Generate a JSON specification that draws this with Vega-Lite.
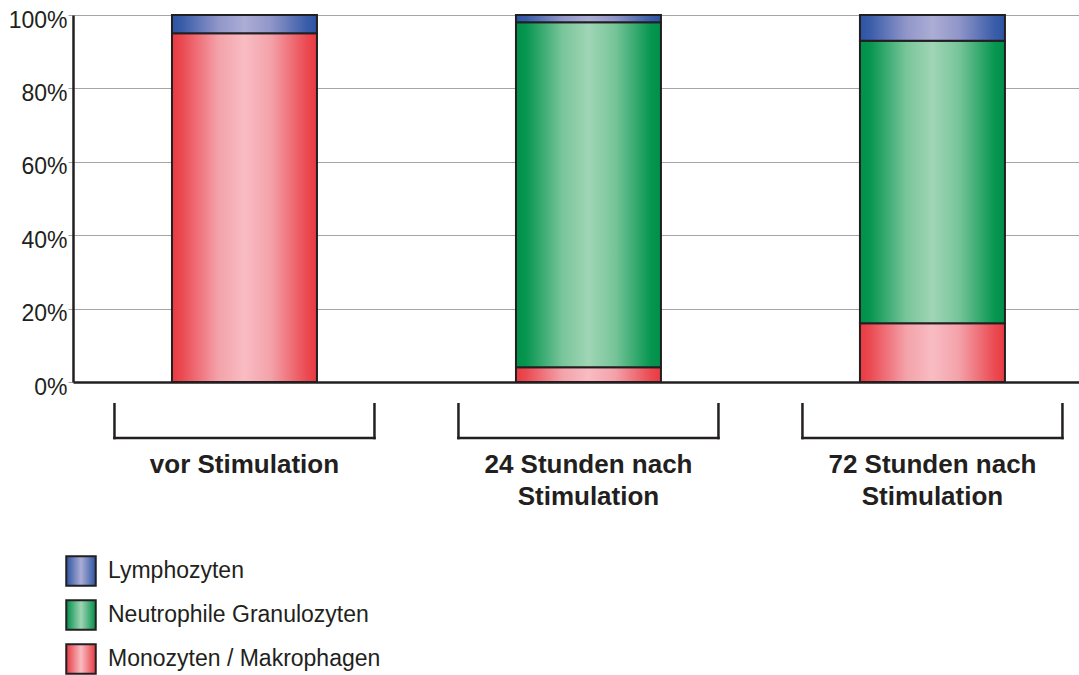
{
  "$schema": "https://vega.github.io/schema/vega-lite/v6.json",
  "autosize": {"type": "none"},
  "width": 1006,
  "height": 367,
  "padding": {"left": 73, "top": 15, "right": 0, "bottom": 293},
  "background": "white",
  "config": {
    "view": {"stroke": null},
    "font": "Liberation Sans",
    "text": {"font": "Liberation Sans", "color": "#231f20"}
  },
  "datasets": {
    "cells": [
      {"group": "vor Stimulation", "type": "Monozyten / Makrophagen", "value": 95},
      {"group": "vor Stimulation", "type": "Neutrophile Granulozyten", "value": 0},
      {"group": "vor Stimulation", "type": "Lymphozyten", "value": 5},
      {"group": "24 Stunden nach\nStimulation", "type": "Monozyten / Makrophagen", "value": 4},
      {"group": "24 Stunden nach\nStimulation", "type": "Neutrophile Granulozyten", "value": 94},
      {"group": "24 Stunden nach\nStimulation", "type": "Lymphozyten", "value": 2},
      {"group": "72 Stunden nach\nStimulation", "type": "Monozyten / Makrophagen", "value": 16},
      {"group": "72 Stunden nach\nStimulation", "type": "Neutrophile Granulozyten", "value": 77},
      {"group": "72 Stunden nach\nStimulation", "type": "Lymphozyten", "value": 7}
    ],
    "groups": [
      {"group": "vor Stimulation"},
      {"group": "24 Stunden nach\nStimulation"},
      {"group": "72 Stunden nach\nStimulation"}
    ]
  },
  "encoding": {
    "x": {
      "field": "group",
      "type": "nominal",
      "sort": null,
      "scale": {
        "domain": ["vor Stimulation", "24 Stunden nach\nStimulation", "72 Stunden nach\nStimulation"],
        "paddingInner": 0.5785,
        "paddingOuter": 0.2515,
        "align": 0.572
      },
      "axis": {
        "labels": false,
        "ticks": false,
        "title": null,
        "grid": false,
        "domainColor": "#231f20",
        "domainWidth": 2.5
      }
    }
  },
  "layer": [
    {
      "data": {"name": "cells"},
      "transform": [
        {"stack": "value", "groupby": ["group"], "as": ["v0", "v1"]},
        {"filter": "datum.type === 'Monozyten / Makrophagen'"}
      ],
      "mark": {
        "type": "bar",
        "stroke": "#231f20",
        "strokeWidth": 2,
        "fill": {
          "gradient": "linear", "x1": 0, "x2": 1, "y1": 0, "y2": 0,
          "stops": [
            {"offset": 0, "color": "#E83A42"},
            {"offset": 0.07, "color": "#EB4A52"},
            {"offset": 0.32, "color": "#F4A2AA"},
            {"offset": 0.5, "color": "#F8BCC2"},
            {"offset": 0.68, "color": "#F4A2AA"},
            {"offset": 0.93, "color": "#EB4A52"},
            {"offset": 1, "color": "#E83A42"}
          ]
        }
      },
      "encoding": {
        "y": {
          "field": "v1",
          "type": "quantitative",
          "scale": {"domain": [0, 100], "nice": false},
          "axis": {
            "values": [0, 20, 40, 60, 80, 100],
            "labelExpr": "datum.value + '%'",
            "title": null,
            "grid": true,
            "gridColor": "#a5a5a5",
            "gridWidth": 1,
            "domainColor": "#231f20",
            "domainWidth": 2.5,
            "tickColor": "#a5a5a5",
            "tickSize": 5,
            "labelFont": "Liberation Sans",
            "labelFontSize": 23,
            "labelColor": "#231f20",
            "labelPadding": 1,
            "labelOffset": 5
          }
        },
        "y2": {"field": "v0"}
      }
    },
    {
      "data": {"name": "cells"},
      "transform": [
        {"stack": "value", "groupby": ["group"], "as": ["v0", "v1"]},
        {"filter": "datum.type === 'Neutrophile Granulozyten' && datum.value > 0"}
      ],
      "mark": {
        "type": "bar",
        "stroke": "#231f20",
        "strokeWidth": 2,
        "fill": {
          "gradient": "linear", "x1": 0, "x2": 1, "y1": 0, "y2": 0,
          "stops": [
            {"offset": 0, "color": "#00904A"},
            {"offset": 0.07, "color": "#079650"},
            {"offset": 0.32, "color": "#78C59A"},
            {"offset": 0.5, "color": "#A0D5B5"},
            {"offset": 0.68, "color": "#78C59A"},
            {"offset": 0.93, "color": "#079650"},
            {"offset": 1, "color": "#00904A"}
          ]
        }
      },
      "encoding": {
        "y": {"field": "v1", "type": "quantitative"},
        "y2": {"field": "v0"}
      }
    },
    {
      "data": {"name": "cells"},
      "transform": [
        {"stack": "value", "groupby": ["group"], "as": ["v0", "v1"]},
        {"filter": "datum.type === 'Lymphozyten'"}
      ],
      "mark": {
        "type": "bar",
        "stroke": "#231f20",
        "strokeWidth": 2,
        "fill": {
          "gradient": "linear", "x1": 0, "x2": 1, "y1": 0, "y2": 0,
          "stops": [
            {"offset": 0, "color": "#2C54A3"},
            {"offset": 0.07, "color": "#3A5DA9"},
            {"offset": 0.32, "color": "#9196C9"},
            {"offset": 0.5, "color": "#ABADD5"},
            {"offset": 0.68, "color": "#9196C9"},
            {"offset": 0.93, "color": "#3A5DA9"},
            {"offset": 1, "color": "#2C54A3"}
          ]
        }
      },
      "encoding": {
        "y": {"field": "v1", "type": "quantitative"},
        "y2": {"field": "v0"}
      }
    },
    {
      "data": {"name": "cells"},
      "mark": {"type": "square", "opacity": 0},
      "encoding": {
        "y": {"field": "value", "type": "quantitative"},
        "color": {
          "field": "type",
          "type": "nominal",
          "scale": {
            "domain": ["Lymphozyten", "Neutrophile Granulozyten", "Monozyten / Makrophagen"],
            "range": [
              {"expr": "{gradient: 'linear', x1: 0, x2: 1, y1: 0, y2: 0, stops: [{offset: 0, color: '#2C54A3'}, {offset: 0.5, color: '#ABADD5'}, {offset: 1, color: '#2C54A3'}]}"},
              {"expr": "{gradient: 'linear', x1: 0, x2: 1, y1: 0, y2: 0, stops: [{offset: 0, color: '#00904A'}, {offset: 0.5, color: '#A0D5B5'}, {offset: 1, color: '#00904A'}]}"},
              {"expr": "{gradient: 'linear', x1: 0, x2: 1, y1: 0, y2: 0, stops: [{offset: 0, color: '#E83A42'}, {offset: 0.5, color: '#F8BCC2'}, {offset: 1, color: '#E83A42'}]}"}
            ]
          },
          "legend": {
            "title": null,
            "orient": "none",
            "legendX": -8,
            "legendY": 540,
            "padding": 0,
            "symbolType": "square",
            "symbolSize": 870,
            "symbolOpacity": 1,
            "symbolStrokeColor": "#231f20",
            "symbolStrokeWidth": 2,
            "rowPadding": 6,
            "labelOffset": 11,
            "labelFont": "Liberation Sans",
            "labelFontSize": 23,
            "labelColor": "#231f20",
            "labelLimit": 500
          }
        }
      }
    },
    {
      "data": {"name": "groups"},
      "mark": {"type": "rule", "color": "#231f20", "strokeWidth": 2.5, "xOffset": -130},
      "encoding": {
        "y": {"datum": -5.72, "type": "quantitative"},
        "y2": {"datum": -15.61}
      }
    },
    {
      "data": {"name": "groups"},
      "mark": {"type": "rule", "color": "#231f20", "strokeWidth": 2.5, "xOffset": 130},
      "encoding": {
        "y": {"datum": -5.72, "type": "quantitative"},
        "y2": {"datum": -15.61}
      }
    },
    {
      "data": {"name": "groups"},
      "mark": {"type": "bar", "color": "#231f20", "width": {"band": 1.81}},
      "encoding": {
        "y": {"datum": -14.93, "type": "quantitative"},
        "y2": {"datum": -15.61}
      }
    },
    {
      "data": {"name": "groups"},
      "mark": {
        "type": "text",
        "font": "Liberation Sans",
        "fontSize": 26,
        "fontWeight": "bold",
        "color": "#231f20",
        "align": "center",
        "baseline": "alphabetic",
        "lineBreak": "\n",
        "lineHeight": 32
      },
      "encoding": {
        "y": {"datum": -24.8, "type": "quantitative"},
        "text": {"field": "group"}
      }
    }
  ]
}
